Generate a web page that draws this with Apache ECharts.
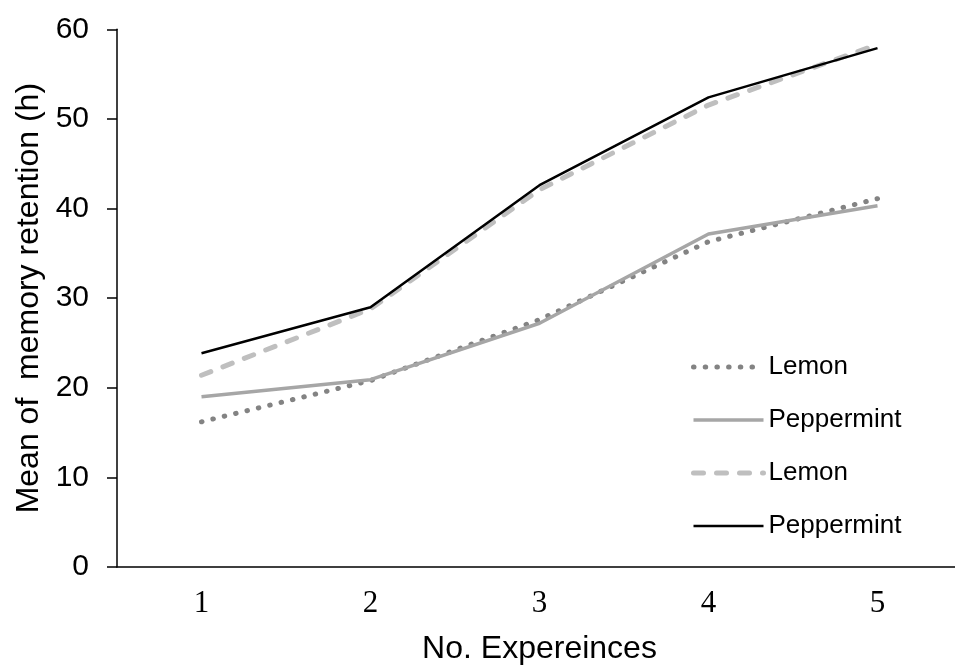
<!DOCTYPE html>
<html>
<head>
<meta charset="utf-8">
<script src="https://cdn.jsdelivr.net/npm/echarts@6/dist/echarts.min.js"></script>
<style>
html,body{margin:0;padding:0;background:#fff;}
#chart{width:955px;height:668px;}
</style>
</head>
<body>
<div id="chart"></div>
<script>
var categories = ['1', '2', '3', '4', '5'];
var lemonA = [16.2, 20.8, 27.6, 36.3, 41.1];
var peppermintA = [19.0, 20.9, 27.2, 37.15, 40.3];
var lemonB = [21.4, 28.8, 42.1, 51.55, 58.3];
var peppermintB = [23.85, 28.98, 42.6, 52.4, 57.9];
var seriesLabels = ['Lemon', 'Peppermint', 'Lemon', 'Peppermint'];
var seriesKeys = ['LemonA', 'PeppermintA', 'LemonB', 'PeppermintB'];
var yTicks = [0, 10, 20, 30, 40, 50, 60];

var chart = echarts.init(document.getElementById('chart'), null, {renderer: 'canvas'});

var styles = [
  {color: '#838383', width: 5, type: [0.5, 11.2], cap: 'round'},
  {color: '#a6a6a6', width: 3.5, type: 'solid', cap: 'butt'},
  {color: '#bfbfbf', width: 5, type: [10, 13], cap: 'round'},
  {color: '#000000', width: 2.5, type: 'solid', cap: 'butt'}
];
var dataSets = [lemonA, peppermintA, lemonB, peppermintB];

var series = dataSets.map(function (d, i) {
  return {
    name: seriesKeys[i],
    type: 'line',
    data: d,
    symbol: 'none',
    showSymbol: false,
    smooth: false,
    silent: true,
    z: 2 + i,
    lineStyle: {
      color: styles[i].color,
      width: styles[i].width,
      type: styles[i].type,
      cap: styles[i].cap,
      join: 'round'
    },
    itemStyle: {color: styles[i].color}
  };
});

var option = {
  animation: false,
  backgroundColor: '#ffffff',
  grid: {left: 117, top: 29.3, width: 845, height: 537.7, containLabel: false, outerBoundsMode: 'none'},
  legend: {
    show: true,
    orient: 'vertical',
    left: 691,
    top: 354,
    padding: 0,
    itemWidth: 70,
    itemHeight: 20,
    itemGap: 27,
    selectedMode: false,
    itemStyle: {opacity: 0},
    data: seriesKeys.map(function (k, i) {
      return {
        name: k,
        itemStyle: {opacity: 0},
        lineStyle: {
          width: styles[i].width,
          color: styles[i].color,
          type: styles[i].type,
          cap: styles[i].cap
        }
      };
    }),
    formatter: function (name) {
      return seriesLabels[seriesKeys.indexOf(name)];
    },
    textStyle: {
      fontFamily: 'Liberation Sans, Arial, sans-serif',
      fontSize: 26,
      color: '#000',
      lineHeight: 26
    }
  },
  xAxis: {
    type: 'category',
    data: categories,
    boundaryGap: true,
    name: 'No. Expereinces',
    nameLocation: 'middle',
    nameGap: 66,
    nameTextStyle: {fontFamily: 'Liberation Sans, Arial, sans-serif', fontSize: 32, color: '#000'},
    axisLine: {lineStyle: {color: '#000', width: 1.5}},
    axisTick: {show: false},
    axisLabel: {
      margin: 21,
      fontFamily: 'Liberation Serif, Times New Roman, serif',
      fontSize: 31,
      color: '#000'
    },
    splitLine: {show: false}
  },
  yAxis: {
    type: 'value',
    min: yTicks[0],
    max: yTicks[yTicks.length - 1],
    interval: 10,
    name: 'Mean of  memory retention (h)',
    nameLocation: 'middle',
    nameGap: 72,
    nameTextStyle: {fontFamily: 'Liberation Sans, Arial, sans-serif', fontSize: 32, color: '#000'},
    axisLine: {show: true, lineStyle: {color: '#000', width: 1.5}},
    axisTick: {show: true, length: 10, lineStyle: {color: '#000', width: 1.5}},
    axisLabel: {
      margin: 28,
      fontFamily: 'Liberation Sans, Arial, sans-serif',
      fontSize: 30,
      color: '#000'
    },
    splitLine: {show: false}
  },
  series: series
};
chart.setOption(option);
</script>
</body>
</html>
